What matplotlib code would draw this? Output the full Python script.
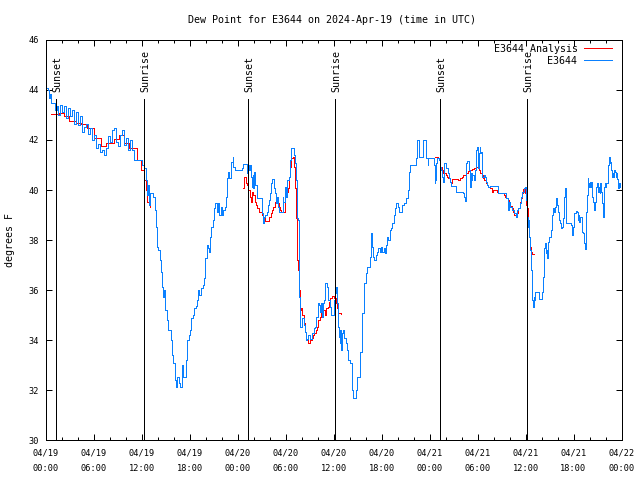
import matplotlib
matplotlib.use("Agg")
import matplotlib.pyplot as plt

## Hours since 2024-04-19 00:00 UTC, dew point in degrees F

## E3644 observations
obs_hours = [0.06, 0.25, 0.38, 0.5, 0.62, 0.88, 1.12, 1.38, 1.5, 1.75, 2.0, 2.25, 2.5, 2.75, 3.0,
	3.25, 3.5, 3.75, 4.0, 4.25, 4.5, 4.75, 5.0, 5.25, 5.5, 5.75, 6.0, 6.25, 6.5, 6.75, 7.0, 7.25,
	7.5, 7.75, 8.0, 8.25, 8.5, 8.75, 9.0, 9.25, 9.5, 9.75, 10.0, 10.25, 10.5, 10.75, 11.0, 11.75,
	12.0, 12.25, 12.5, 12.62, 12.75, 12.88, 13.0, 13.38, 13.62, 13.75, 13.91, 14.04, 14.25, 14.38,
	14.46, 14.59, 14.66, 14.75, 14.88, 15.09, 15.29, 15.59, 15.75, 15.91, 16.09, 16.16, 16.25,
	16.41, 16.59, 16.75, 16.96, 17.12, 17.5, 17.66, 17.84, 18.0, 18.16, 18.41, 18.5, 18.75, 18.91,
	19.04, 19.16, 19.34, 19.59, 19.75, 19.91, 20.09, 20.25, 20.41, 20.5, 20.66, 20.84, 21.0, 21.16,
	21.34, 21.5, 21.66, 21.84, 22.0, 22.16, 22.34, 22.5, 22.66, 22.75, 22.91, 23.09, 23.16, 23.34,
	23.41, 23.62, 24.5, 24.66, 24.91, 25.09, 25.16, 25.29, 25.41, 25.5, 25.62, 25.75, 25.84, 25.91,
	26.04, 26.16, 26.34, 26.84, 27.0, 27.09, 27.16, 27.25, 27.41, 27.59, 27.75, 27.91, 28.0, 28.12,
	28.25, 28.41, 28.54, 28.66, 28.75, 28.91, 29.04, 29.16, 29.41, 29.59, 29.66, 29.84, 30.0, 30.16,
	30.34, 30.5, 30.59, 30.71, 30.91, 31.0, 31.12, 31.25, 31.41, 31.54, 31.59, 31.66, 31.75, 32.0,
	32.09, 32.25, 32.38, 32.5, 32.66, 32.79, 33.0, 33.21, 33.34, 33.5, 33.66, 33.84, 34.0, 34.16,
	34.34, 34.41, 34.5, 34.66, 34.84, 34.91, 35.16, 35.34, 35.5, 35.66, 35.88, 36.0, 36.16, 36.34,
	36.41, 36.54, 36.66, 36.75, 36.84, 36.96, 37.09, 37.16, 37.34, 37.5, 37.66, 37.79, 38.0, 38.25,
	38.34, 38.41, 38.66, 38.75, 38.91, 39.16, 39.25, 39.34, 39.5, 39.59, 39.75, 39.84, 40.0, 40.16,
	40.41, 40.5, 40.66, 40.75, 40.84, 40.91, 41.09, 41.25, 41.41, 41.59, 41.75, 41.91, 42.09, 42.25,
	42.41, 42.5, 42.66, 42.84, 43.0, 43.16, 43.34, 43.5, 43.66, 43.84, 44.0, 44.16, 44.41, 44.59,
	44.75, 44.91, 45.09, 45.25, 45.41, 45.59, 46.16, 46.25, 46.41, 46.62, 46.66, 47.09, 47.16, 47.41,
	47.5, 47.59, 47.75, 47.84, 48.5, 48.54, 48.62, 48.71, 48.84, 48.91, 49.16, 49.25, 49.34, 49.46,
	49.59, 49.66, 49.75, 49.84, 50.0, 50.09, 50.25, 50.41, 50.59, 50.66, 51.25, 51.34, 51.75, 52.16,
	52.29, 52.41, 52.5, 52.59, 52.66, 52.84, 52.91, 53.0, 53.09, 53.16, 53.25, 53.34, 53.5, 53.62,
	53.75, 53.84, 53.91, 54.0, 54.09, 54.16, 54.25, 54.34, 54.41, 54.5, 54.59, 54.75, 54.91, 55.0,
	55.16, 55.34, 55.5, 56.34, 56.59, 57.41, 57.59, 57.75, 57.84, 57.91, 58.09, 58.25, 58.59, 58.75,
	58.91, 59.09, 59.25, 59.41, 59.59, 59.75, 59.91, 60.0, 60.09, 60.16, 60.25, 60.34, 60.41, 60.5,
	60.62, 60.75, 60.84, 60.91, 61.0, 61.09, 61.16, 61.5, 61.66, 62.0, 62.09, 62.16, 62.25, 62.34,
	62.41, 62.5, 62.59, 62.66, 62.75, 62.84, 62.91, 63.16, 63.29, 63.41, 63.54, 63.66, 63.75, 63.84,
	63.91, 64.04, 64.16, 64.25, 64.41, 64.59, 64.66, 64.75, 64.84, 64.91, 65.0, 65.09, 65.66, 65.75,
	65.84, 65.91, 66.0, 66.09, 66.25, 66.41, 66.5, 66.59, 66.66, 66.84, 67.0, 67.09, 67.16, 67.25,
	67.34, 67.41, 67.5, 67.59, 67.66, 67.75, 67.84, 67.91, 68.0, 68.09, 68.16, 68.25, 68.34, 68.41,
	68.5, 68.59, 68.66, 68.75, 68.84, 68.91, 69.0, 69.16, 69.25, 69.34, 69.41, 69.59, 69.66, 69.75,
	69.84, 69.91, 70.0, 70.09, 70.16, 70.25, 70.34, 70.41, 70.5, 70.59, 70.66, 70.75, 70.84, 70.91,
	71.0, 71.09, 71.16, 71.25, 71.34, 71.41, 71.5, 71.59, 71.66, 71.75, 71.84]
obs_dewpt = [44.08, 44.0, 43.68, 43.84, 43.48, 43.48, 43.2, 43.36, 43.0, 43.4, 43.12, 43.36, 42.88,
	43.28, 42.96, 43.2, 42.64, 43.12, 42.6, 42.96, 42.32, 42.52, 42.64, 42.24, 42.48, 42.0, 42.2,
	41.68, 41.84, 41.52, 41.6, 41.4, 41.68, 42.16, 41.92, 42.4, 42.48, 41.92, 41.76, 42.2, 42.4, 41.8,
	42.08, 41.6, 42.0, 41.6, 41.2, 41.2, 41.0, 40.88, 40.4, 39.8, 40.2, 39.4, 39.88, 39.7, 39.2, 38.53,
	37.73, 37.6, 37.2, 36.73, 36.13, 36.0, 35.73, 36.0, 35.2, 34.8, 34.4, 34.0, 33.4, 33.07, 32.8, 32.4,
	32.13, 32.53, 32.3, 32.1, 33.0, 32.53, 33.2, 34.0, 34.2, 34.4, 34.87, 35.0, 35.27, 35.36, 35.6,
	36.0, 35.8, 36.07, 36.2, 36.47, 37.27, 37.8, 37.67, 37.53, 38.13, 38.53, 38.8, 39.27, 39.47, 39.13,
	39.47, 39.0, 39.33, 39.0, 39.2, 39.33, 39.73, 40.47, 40.73, 40.47, 40.8, 41.13, 41.31, 40.93, 40.8,
	40.87, 41.04, 41.04, 40.87, 40.67, 41.0, 40.8, 41.0, 40.53, 40.13, 40.6, 40.07, 40.73, 40.2, 39.67,
	39.67, 39.07, 38.87, 38.67, 38.93, 39.0, 39.13, 39.4, 39.6, 39.87, 40.27, 40.43, 40.43, 40.07,
	39.87, 39.47, 39.73, 39.33, 39.13, 39.13, 39.73, 39.53, 40.13, 39.73, 40.4, 40.53, 41.2, 41.47,
	41.67, 41.67, 41.4, 41.07, 40.4, 38.87, 38.8, 37.2, 35.73, 34.53, 34.53, 34.87, 34.6, 34.33, 34.0,
	34.03, 34.2, 34.03, 34.03, 34.27, 34.47, 34.53, 34.93, 35.47, 35.4, 35.13, 35.47, 34.93, 35.47,
	35.6, 36.27, 36.13, 35.6, 35.33, 35.0, 35.0, 35.6, 35.87, 36.13, 35.47, 34.53, 34.13, 33.87, 34.4,
	33.6, 34.27, 34.4, 34.07, 33.87, 33.6, 33.2, 33.07, 33.07, 32.0, 31.67, 31.67, 32.0, 32.53, 32.53,
	32.93, 33.53, 34.27, 35.07, 35.73, 36.27, 36.67, 36.93, 36.93, 37.33, 38.27, 38.0, 37.73, 37.33,
	37.2, 37.4, 37.53, 37.67, 37.53, 37.73, 37.53, 37.67, 37.47, 37.8, 38.13, 38.0, 38.4, 38.47, 38.67,
	39.0, 39.27, 39.47, 39.33, 39.13, 39.13, 39.4, 39.47, 39.47, 39.67, 40.0, 40.73, 41.0, 41.0, 41.27,
	42.0, 42.0, 41.33, 41.33, 42.0, 42.0, 41.6, 41.27, 41.0, 41.27, 41.27, 41.0, 40.27, 40.4, 41.07,
	41.27, 41.2, 41.07, 40.93, 40.8, 40.53, 40.33, 40.8, 41.07, 41.07, 40.87, 40.67, 40.47, 40.33,
	40.16, 40.16, 39.93, 39.9, 39.87, 39.73, 39.57, 40.4, 41.07, 41.16, 41.16, 40.8, 40.4, 40.13, 40.67,
	40.4, 40.6, 40.4, 40.8, 41.33, 41.6, 41.73, 41.27, 40.87, 41.47, 41.73, 41.47, 41.53, 40.8, 40.53,
	40.6, 40.53, 40.33, 40.2, 40.13, 40.16, 40.16, 39.87, 39.87, 39.67, 39.6, 39.2, 39.53, 39.33, 39.2,
	39.07, 38.91, 39.2, 39.27, 39.47, 39.73, 39.93, 40.07, 40.13, 39.87, 39.6, 38.93, 38.53, 38.8,
	38.13, 37.6, 36.8, 36.13, 35.6, 35.33, 35.73, 35.6, 35.93, 35.93, 35.63, 35.63, 35.93, 36.53, 37.2,
	37.67, 37.89, 37.47, 37.6, 37.27, 37.6, 37.93, 38.13, 38.4, 39.0, 39.27, 39.13, 39.33, 39.53, 39.67,
	39.4, 39.13, 38.8, 38.67, 38.47, 38.53, 38.87, 39.4, 39.73, 40.07, 39.4, 38.67, 38.6, 38.4, 38.2,
	38.53, 38.8, 39.07, 39.15, 39.13, 38.8, 39.0, 38.73, 38.93, 38.67, 38.33, 38.27, 38.13, 37.87,
	37.63, 38.4, 39.13, 39.8, 40.47, 40.27, 40.13, 40.33, 40.13, 40.33, 40.07, 39.73, 39.53, 39.33,
	39.2, 39.53, 39.87, 40.13, 40.27, 39.93, 40.13, 39.87, 40.27, 39.93, 39.47, 38.93, 39.6, 40.13,
	40.27, 40.13, 40.27, 40.27, 40.53, 41.0, 41.31, 41.07, 41.13, 40.8, 40.67, 40.53, 40.67, 40.53,
	40.8, 40.73, 40.53, 40.67, 40.43, 40.33, 40.07, 40.27, 40.2, 40.13]

## E3644 Analysis (three separate runs)
anl_hours_1 = [0.66, 0.79, 1.63, 2.25, 2.88, 3.72, 4.35, 5.17, 6.01, 6.85, 7.48, 8.51, 9.14, 9.77,
	10.39, 11.02, 11.43, 11.86, 12.27, 12.48, 12.68, 13.02]
anl_dewpt_1 = [43.03, 43.03, 43.07, 42.96, 42.77, 42.69, 42.63, 42.47, 42.07, 41.76, 41.87, 42.03,
	42.2, 41.87, 41.69, 41.67, 41.2, 40.8, 40.4, 40.0, 39.53, 39.3]
anl_hours_2 = [24.66, 24.75, 24.88, 25.0, 25.16, 25.29, 25.5, 25.62, 25.75, 25.91, 26.09, 26.25,
	26.41, 26.59, 26.84, 27.0, 27.16, 27.41, 27.75, 27.91, 28.09, 28.25, 28.41, 28.59, 28.75, 28.91,
	29.09, 29.25, 29.41, 29.66, 29.84, 29.91, 30.09, 30.25, 30.34, 30.5, 30.59, 30.91, 31.0, 31.09,
	31.16, 31.25, 31.34, 31.41, 31.5, 31.62, 31.75, 31.91, 32.09, 32.25, 32.41, 32.59, 32.75, 32.91,
	33.09, 33.25, 33.41, 33.59, 33.75, 33.91, 34.09, 34.25, 34.41, 34.59, 34.75, 34.91, 35.09, 35.25,
	35.41, 35.59, 35.75, 35.91, 36.09, 36.25, 36.41, 36.59, 36.96]
anl_dewpt_2 = [40.07, 40.53, 40.53, 40.27, 40.2, 40.0, 39.73, 39.53, 39.93, 39.8, 39.53, 39.4, 39.27,
	39.13, 39.13, 39.0, 38.87, 38.77, 38.77, 38.93, 39.07, 39.2, 39.33, 39.53, 39.6, 39.47, 39.33,
	39.2, 39.13, 39.13, 39.27, 39.73, 39.93, 40.07, 40.53, 40.93, 41.27, 41.33, 40.93, 40.67, 40.07,
	38.87, 37.8, 37.2, 36.8, 36.0, 35.2, 35.27, 35.0, 34.67, 34.33, 34.0, 33.87, 33.87, 34.0, 34.07,
	34.2, 34.27, 34.4, 34.53, 34.8, 34.93, 35.13, 35.2, 35.2, 35.0, 35.27, 35.33, 35.53, 35.67, 35.76,
	35.76, 35.67, 35.47, 35.27, 35.07, 35.04]
anl_hours_3 = [48.62, 49.09, 49.25, 49.34, 49.5, 49.66, 50.0, 50.16, 50.34, 50.5, 50.66, 50.84,
	51.16, 51.5, 51.84, 52.0, 52.16, 52.5, 52.84, 53.0, 53.34, 53.5, 53.84, 54.0, 54.16, 54.34, 54.5,
	54.66, 54.84, 55.0, 55.16, 55.34, 55.5, 55.66, 55.75, 55.91, 56.25, 56.41, 56.59, 57.09, 57.25,
	57.41, 57.59, 57.75, 57.91, 58.09, 58.25, 58.41, 58.59, 58.75, 58.91, 59.09, 59.25, 59.41, 59.59,
	59.66, 59.84, 59.91, 60.0, 60.09, 60.16, 60.25, 60.34, 60.41, 60.5, 60.62, 60.75, 61.0]
anl_dewpt_3 = [41.31, 41.27, 41.07, 40.93, 40.8, 40.67, 40.6, 40.53, 40.47, 40.33, 40.29, 40.43,
	40.43, 40.4, 40.47, 40.53, 40.6, 40.69, 40.77, 40.8, 40.83, 40.87, 40.91, 40.87, 40.8, 40.69, 40.6,
	40.47, 40.4, 40.29, 40.2, 40.13, 40.07, 40.07, 39.93, 40.0, 40.0, 39.93, 39.87, 39.87, 39.8, 39.73,
	39.67, 39.6, 39.47, 39.36, 39.27, 39.13, 39.0, 38.93, 39.07, 39.27, 39.5, 39.67, 39.87, 40.03,
	40.07, 39.87, 39.6, 39.4, 39.27, 38.8, 38.53, 38.13, 37.73, 37.5, 37.43, 37.43]

## Sunrise / sunset markers
sun_hours = [1.25, 12.3, 25.3, 36.15, 49.35, 60.2]
sun_labels = ["Sunset", "Sunrise", "Sunset", "Sunrise", "Sunset", "Sunrise"]

## Axis ticks
xtick_hours = [0, 6, 12, 18, 24, 30, 36, 42, 48, 54, 60, 66, 72]
xtick_labels = ["04/19\n00:00", "04/19\n06:00", "04/19\n12:00", "04/19\n18:00",
	"04/20\n00:00", "04/20\n06:00", "04/20\n12:00", "04/20\n18:00",
	"04/21\n00:00", "04/21\n06:00", "04/21\n12:00", "04/21\n18:00", "04/22\n00:00"]
ytick_vals = [30, 32, 34, 36, 38, 40, 42, 44, 46]

##=============================================================================

fs = 7.2	# title / legend / labels
fst = 6.2	# tick labels
lw = 0.72	# one pixel
plt.rcParams["font.family"] = ["DejaVu Sans Mono"]
plt.rcParams["font.size"] = fs

fig = plt.figure(figsize=(6.4, 4.8), dpi=100)
ax = fig.add_axes([46/640., 40/480., 575.5/640., 400/480.])

red = "#ff0000"
blue = "#0a80ff"

## Analysis first, observations on top
ax.plot(anl_hours_1, anl_dewpt_1, color=red, lw=lw, drawstyle="steps-post",
	antialiased=False, label="E3644 Analysis")
ax.plot(anl_hours_2, anl_dewpt_2, color=red, lw=lw, drawstyle="steps-post", antialiased=False)
ax.plot(anl_hours_3, anl_dewpt_3, color=red, lw=lw, drawstyle="steps-post", antialiased=False)
ax.plot(obs_hours, obs_dewpt, color=blue, lw=lw, drawstyle="steps-post",
	antialiased=False, label="E3644")

## Sun lines
ax.vlines(sun_hours, 30, 43.64, color="k", lw=lw, antialiased=False)
for h, lab in zip(sun_hours, sun_labels):
	ax.text(h + 0.15, 43.93, lab, rotation=90, ha="center", va="bottom", fontsize=fs)

## Accoutrements
ax.set_xlim(0, 72)
ax.set_ylim(30, 46)
ax.set_xticks(xtick_hours)
ax.set_xticklabels(xtick_labels, linespacing=1.95, fontsize=fst)
ax.set_xticks(range(0, 73, 2), minor=True)
ax.set_yticks(ytick_vals)
ax.set_yticklabels([str(v) for v in ytick_vals], fontsize=fst)
ax.tick_params(which="both", direction="in", top=True, right=True, width=lw, color="k")
ax.tick_params(which="major", length=4.5)
ax.tick_params(which="minor", length=2.3)
ax.tick_params(axis="x", which="major", pad=6)
ax.tick_params(axis="y", which="major", pad=5)
for s in ax.spines.values():
	s.set_linewidth(lw)

ax.legend(loc="upper right", bbox_to_anchor=(1 - 7/575.5, 1 - 1/400.), frameon=False,
	markerfirst=False, handlelength=2.8, handletextpad=0.6, labelspacing=0.2,
	borderpad=0.3, borderaxespad=0.0, fontsize=fs)

fig.text(332.5/640., 1 - 20/480., "Dew Point for E3644 on 2024-Apr-19 (time in UTC)",
	ha="center", va="center", fontsize=fs)
fig.text(10/640., 0.5, "degrees F", rotation=90, ha="center", va="center", fontsize=fs)

fig.savefig("out.png", dpi=100)
